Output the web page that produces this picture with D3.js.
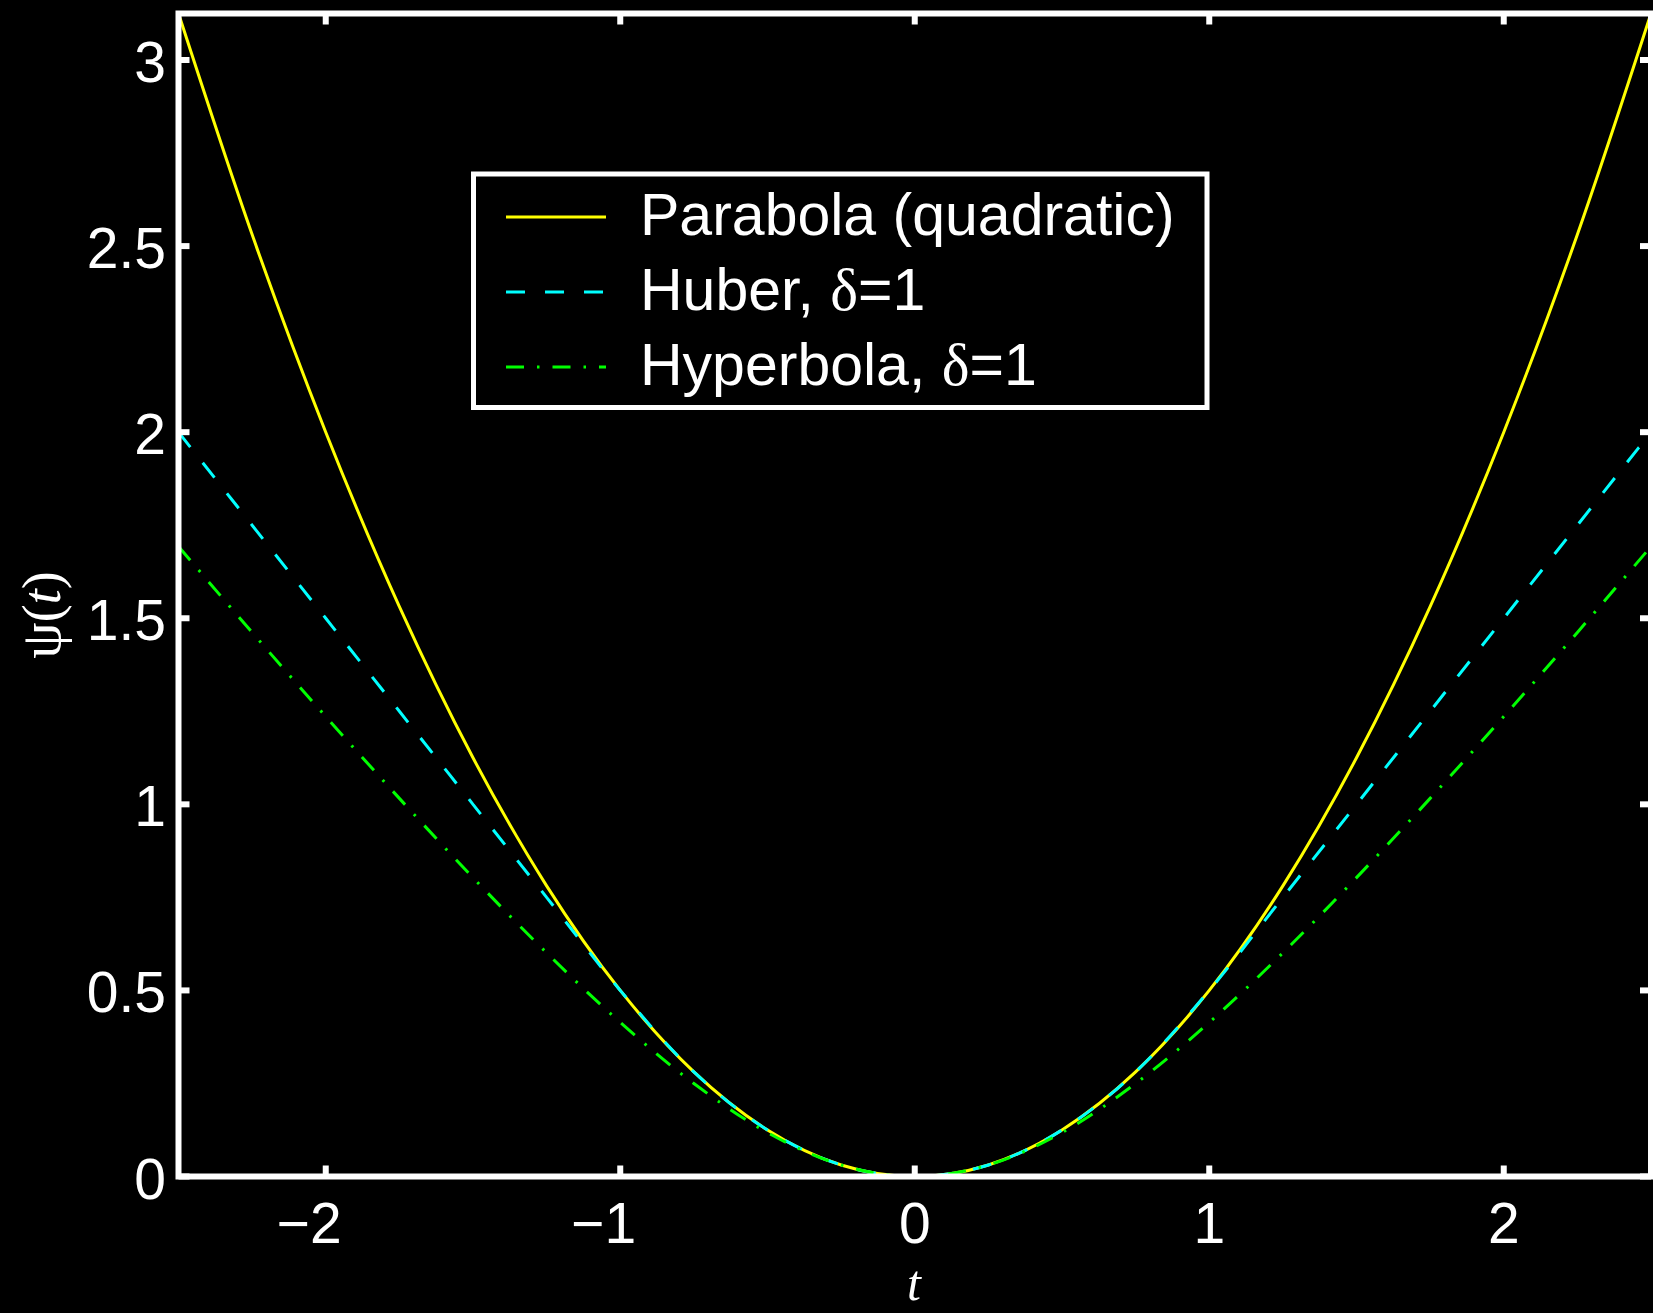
<!DOCTYPE html>
<html>
<head>
<meta charset="utf-8">
<script src="https://cdn.jsdelivr.net/npm/d3@7"></script>
<style>
  html, body { margin: 0; padding: 0; background: #000; }
  svg { display: block; }
</style>
</head>
<body>
<svg width="1653" height="1313"></svg>
<script>
// sample points
var tValues = [-2.5, -2.25, -2, -1.75, -1.5, -1.25, -1, -0.75, -0.5, -0.25, 0,
               0.25, 0.5, 0.75, 1, 1.25, 1.5, 1.75, 2, 2.25, 2.5];
var parabola = [3.125, 2.531, 2.0, 1.531, 1.125, 0.781, 0.5, 0.281, 0.125, 0.031, 0,
                0.031, 0.125, 0.281, 0.5, 0.781, 1.125, 1.531, 2.0, 2.531, 3.125];
var huber = [2.0, 1.75, 1.5, 1.25, 1.0, 0.75, 0.5, 0.281, 0.125, 0.031, 0,
             0.031, 0.125, 0.281, 0.5, 0.75, 1.0, 1.25, 1.5, 1.75, 2.0];
var hyperbola = [1.693, 1.462, 1.236, 1.016, 0.803, 0.601, 0.414, 0.25, 0.118, 0.031, 0,
                 0.031, 0.118, 0.25, 0.414, 0.601, 0.803, 1.016, 1.236, 1.462, 1.693];

var seriesNames = ['Parabola (quadratic)', 'Huber, ', 'Hyperbola, '];
var xTicks = [-2, -1, 0, 1, 2];
var yTicks = [0, 0.5, 1, 1.5, 2, 2.5, 3];

var svg = d3.select('svg');

var x = d3.scaleLinear()
    .domain([-2.5, 2.5])
    .range([178.5, 1651]);
var y = d3.scaleLinear()
    .domain([0, 3.125])
    .range([1176.5, 13.5]);

var series = [
  {name: seriesNames[0], values: parabola, color: '#ffff00', dash: null, delta: false},
  {name: seriesNames[1], values: huber, color: '#00ffff', dash: '19,20', delta: true},
  {name: seriesNames[2], values: hyperbola, color: '#00ff00', dash: '18,13,2.5,13', delta: true}
];

var line = d3.line()
  .x(function(d) { return x(d[0]); })
  .y(function(d) { return y(d[1]); })
  .curve(d3.curveMonotoneX);

svg.selectAll('.curve')
  .data(series)
  .enter()
  .append('path')
  .attr('class', 'curve')
  .attr('d', function(s) {
    return line(tValues.map(function(t, i) { return [t, s.values[i]]; }));
  })
  .attr('fill', 'none')
  .attr('stroke', function(s) { return s.color; })
  .attr('stroke-width', 3)
  .attr('stroke-dasharray', function(s) { return s.dash; });

// box + ticks (inward, on all sides)
var tickLen = 11;
svg.append('rect')
  .attr('x', x.range()[0])
  .attr('y', y.range()[1])
  .attr('width', x.range()[1] - x.range()[0])
  .attr('height', y.range()[0] - y.range()[1])
  .attr('fill', 'none')
  .attr('stroke', '#fff')
  .attr('stroke-width', 6);

svg.selectAll('.xtick')
  .data(xTicks)
  .enter()
  .append('g')
  .attr('class', 'xtick')
  .each(function(d) {
    var g = d3.select(this);
    g.append('line')
      .attr('x1', x(d)).attr('x2', x(d))
      .attr('y1', y.range()[0]).attr('y2', y.range()[0] - tickLen)
      .attr('stroke', '#fff').attr('stroke-width', 6);
    g.append('line')
      .attr('x1', x(d)).attr('x2', x(d))
      .attr('y1', y.range()[1]).attr('y2', y.range()[1] + tickLen)
      .attr('stroke', '#fff').attr('stroke-width', 6);
    // digit centred on the tick, minus hangs to the left
    g.append('text')
      .attr('x', x(d) + 0.278 * 57)
      .attr('y', 1243)
      .attr('text-anchor', 'end')
      .attr('font-family', 'Liberation Sans, Arial, sans-serif')
      .attr('font-size', 57)
      .attr('fill', '#fff')
      .text(d < 0 ? '\u2212' + Math.abs(d) : d);
  });

svg.selectAll('.ytick')
  .data(yTicks)
  .enter()
  .append('g')
  .attr('class', 'ytick')
  .each(function(d) {
    var g = d3.select(this);
    g.append('line')
      .attr('x1', x.range()[0]).attr('x2', x.range()[0] + tickLen)
      .attr('y1', y(d)).attr('y2', y(d))
      .attr('stroke', '#fff').attr('stroke-width', 6);
    g.append('line')
      .attr('x1', x.range()[1]).attr('x2', x.range()[1] - tickLen)
      .attr('y1', y(d)).attr('y2', y(d))
      .attr('stroke', '#fff').attr('stroke-width', 6);
    g.append('text')
      .attr('x', 166)
      .attr('y', y(d) + 22)
      .attr('text-anchor', 'end')
      .attr('font-family', 'Liberation Sans, Arial, sans-serif')
      .attr('font-size', 57)
      .attr('fill', '#fff')
      .text(d);
  });

// axis labels
svg.append('text')
  .attr('x', 914)
  .attr('y', 1300)
  .attr('text-anchor', 'middle')
  .attr('font-family', 'Liberation Serif, Times New Roman, serif')
  .attr('font-style', 'italic')
  .attr('font-size', 50)
  .attr('fill', '#fff')
  .text('t');

var yl = svg.append('text')
  .attr('transform', 'translate(60,615) rotate(-90)')
  .attr('text-anchor', 'middle')
  .attr('font-family', 'Liberation Serif, Times New Roman, serif')
  .attr('font-size', 54)
  .attr('fill', '#fff');
yl.append('tspan').attr('font-size', 58).text('\u03c8');
yl.append('tspan').text('(');
yl.append('tspan').attr('font-style', 'italic').text('t');
yl.append('tspan').text(')');

// legend
var legend = svg.append('g');
legend.append('rect')
  .attr('x', 473.5)
  .attr('y', 174)
  .attr('width', 733.5)
  .attr('height', 233.5)
  .attr('fill', '#000')
  .attr('stroke', '#fff')
  .attr('stroke-width', 5);

var rows = legend.selectAll('.legend-row')
  .data(series)
  .enter()
  .append('g')
  .attr('class', 'legend-row')
  .attr('transform', function(d, i) {
    return 'translate(0,' + (217 + i * 75) + ')';
  });

rows.append('line')
  .attr('x1', 506).attr('x2', 606)
  .attr('y1', 0).attr('y2', 0)
  .attr('stroke', function(d) { return d.color; })
  .attr('stroke-width', 3)
  .attr('stroke-dasharray', function(d) { return d.dash; });

var labels = rows.append('text')
  .attr('x', 640)
  .attr('y', 18)
  .attr('font-family', 'Liberation Sans, Arial, sans-serif')
  .attr('font-size', 59)
  .attr('fill', '#fff')
  .text(function(d) { return d.name; });

labels.filter(function(d) { return d.delta; })
  .append('tspan')
  .attr('font-family', 'Liberation Serif, Times New Roman, serif')
  .text('\u03b4');
labels.filter(function(d) { return d.delta; })
  .append('tspan')
  .text('=1');
</script>
</body>
</html>
